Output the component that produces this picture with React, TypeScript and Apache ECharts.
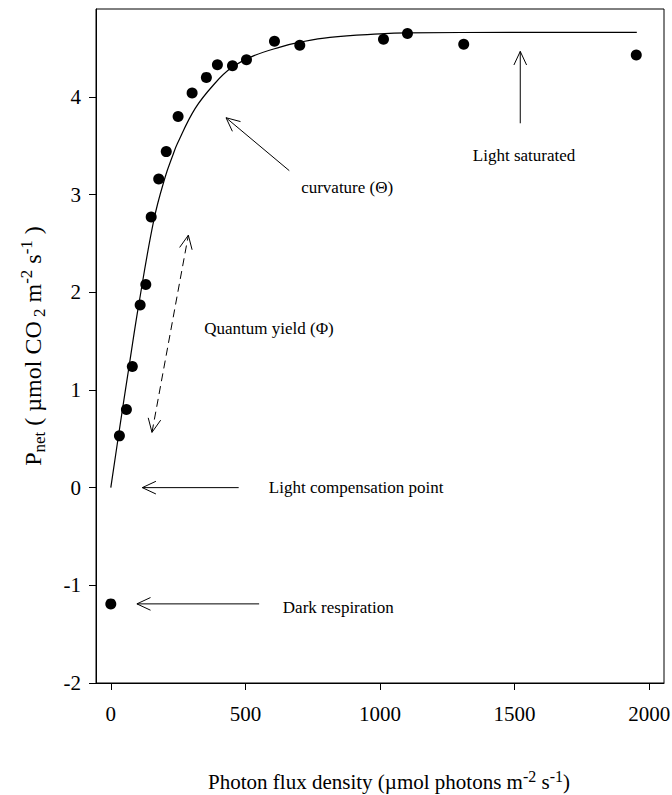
import React, { useEffect, useRef } from 'react';
import * as echarts from 'echarts';

// Measured data points (PFD, Pnet)
const pfd = [0, 32, 58, 80, 109, 130, 150, 178, 206, 250, 302, 355, 396, 452, 504, 608, 702, 1013, 1102, 1311, 1952];
const pnet = [-1.19, 0.53, 0.8, 1.24, 1.87, 2.08, 2.77, 3.16, 3.44, 3.8, 4.04, 4.2, 4.33, 4.32, 4.38, 4.57, 4.53, 4.59, 4.65, 4.54, 4.43];

// Fitted light-response curve
const fitX = [0, 35, 70, 103, 160, 202, 230, 247, 313, 387, 449, 530, 629, 703, 814, 1000, 1100, 1500, 1954];
const fitY = [0, 0.65, 1.28, 1.86, 2.74, 3.18, 3.4, 3.52, 3.88, 4.14, 4.3, 4.42, 4.51, 4.56, 4.61, 4.645, 4.655, 4.66, 4.66];

const xTicks = [0, 500, 1000, 1500, 2000];
const yTicks = [-2, -1, 0, 1, 2, 3, 4];

// Annotation arrows in data coordinates
const arrowTails = [[663, 3.245], [1521, 3.73], [153, 0.566], [475, 0], [551, -1.19]];
const arrowTips = [[428, 3.787], [1521, 4.466], [288, 2.584], [117, 0], [97, -1.19]];
const arrowDashed = [false, false, true, false, false];
const arrowDouble = [false, false, true, false, false];

const noteTexts = ['curvature (Θ)', 'Light saturated', 'Quantum yield (Φ)', 'Light compensation point', 'Dark respiration'];
const notePos = [[707, 3.075], [1345, 3.4], [347, 1.63], [587, 0], [639, -1.23]];

const FONT = "'Liberation Serif', 'Times New Roman', serif";

export default function App() {
  const ref = useRef<HTMLDivElement>(null);
  useEffect(() => {
    document.body.style.margin = '0';
    const chart = echarts.init(ref.current!, null, { renderer: 'svg' });
    const richX = {
      a: { fontSize: 21, fontFamily: FONT, color: '#000' },
      sup: { fontSize: 16, fontFamily: FONT, color: '#000', padding: [0, 0, 12, 0] },
    };
    const richY = {
      a: { fontSize: 24, fontFamily: FONT, color: '#000' },
      sup: { fontSize: 17, fontFamily: FONT, color: '#000', padding: [0, 0, 13, 0] },
      sub: { fontSize: 17, fontFamily: FONT, color: '#000', padding: [13, 0, 0, 0] },
    };
    chart.setOption({
      animation: false,
      backgroundColor: '#fff',
      grid: {
        left: 96, right: 8, top: 9, bottom: 112,
        outerBoundsMode: 'none', containLabel: false,
        show: true, borderColor: '#000', borderWidth: 1,
      },
      xAxis: {
        type: 'value',
        min: -55,
        max: 2055,
        splitLine: { show: false },
        axisLine: { show: true, onZero: false, lineStyle: { color: '#000', width: 1 } },
        axisTick: { show: true, length: 7, customValues: xTicks, lineStyle: { color: '#000' } },
        axisLabel: { customValues: xTicks, margin: 20, fontSize: 21, fontFamily: FONT, color: '#000', formatter: (v: number) => String(v) },
        name: '{a|Photon flux density (µmol photons m}{sup|-2}{a| s}{sup|-1}{a|)}',
        nameLocation: 'middle',
        nameGap: 85,
        nameTextStyle: { rich: richX, padding: [0, 0, 0, 18] },
      },
      yAxis: {
        type: 'value',
        min: -2,
        max: 4.9,
        splitLine: { show: false },
        axisLine: { show: true, onZero: false, lineStyle: { color: '#000', width: 1 } },
        axisTick: { show: true, length: 7, customValues: yTicks, lineStyle: { color: '#000' } },
        axisLabel: { customValues: yTicks, margin: 15, fontSize: 21, fontFamily: FONT, color: '#000', formatter: (v: number) => String(v) },
        name: '{a|P}{sub|net}{a| ( µmol CO}{sub| 2}{a| m}{sup|-2}{a| s}{sup|-1}{a| )}',
        nameLocation: 'middle',
        nameRotate: 90,
        nameGap: 48,
        nameTextStyle: { rich: richY },
      },
      series: [
        {
          type: 'line',
          data: fitX.map((x, i) => [x, fitY[i]]),
          showSymbol: false,
          smooth: 0.4,
          lineStyle: { color: '#000', width: 1.2 },
          z: 2,
        },
        {
          type: 'scatter',
          data: pfd.map((x, i) => [x, pnet[i]]),
          symbol: 'circle',
          symbolSize: 11,
          itemStyle: { color: '#000', opacity: 1 },
          z: 3,
        },
      ],
    });

    const px = (p: number[]) => chart.convertToPixel({ gridIndex: 0 }, p) as number[];
    const graphics: any[] = [];
    const head = (tip: number[], tail: number[]) => {
      const dx = tail[0] - tip[0];
      const dy = tail[1] - tip[1];
      const len = Math.hypot(dx, dy);
      const ux = dx / len, uy = dy / len;
      const L = 15, ang = (25 * Math.PI) / 180;
      const c = Math.cos(ang), s = Math.sin(ang);
      const a1 = [tip[0] + L * (ux * c - uy * s), tip[1] + L * (ux * s + uy * c)];
      const a2 = [tip[0] + L * (ux * c + uy * s), tip[1] + L * (-ux * s + uy * c)];
      return { type: 'polyline', shape: { points: [a1, tip, a2] }, style: { stroke: '#000', lineWidth: 1, fill: null }, z: 10 };
    };
    arrowTails.forEach((t, i) => {
      const a = px(t);
      const b = px(arrowTips[i]);
      graphics.push({
        type: 'line',
        shape: { x1: a[0], y1: a[1], x2: b[0], y2: b[1] },
        style: { stroke: '#000', lineWidth: 1, lineDash: arrowDashed[i] ? [8, 5] : null },
        z: 10,
      });
      graphics.push(head(b, a));
      if (arrowDouble[i]) graphics.push(head(a, b));
    });
    noteTexts.forEach((t, i) => {
      const p = px(notePos[i]);
      graphics.push({
        type: 'text',
        x: p[0],
        y: p[1],
        style: { text: t, fontSize: 17, fontFamily: FONT, fill: '#000', textAlign: 'left', textVerticalAlign: 'middle' },
        z: 10,
      });
    });
    chart.setOption({ graphic: graphics });
    return () => chart.dispose();
  }, []);
  return <div ref={ref} style={{ width: 672, height: 795 }} />;
}
